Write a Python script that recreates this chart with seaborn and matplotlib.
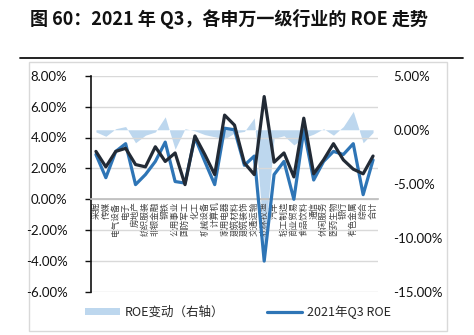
import matplotlib
matplotlib.use("Agg")
import matplotlib.pyplot as plt
import seaborn as sns
import pandas as pd
import numpy as np
from matplotlib.patches import Rectangle, Patch
from matplotlib.lines import Line2D
from matplotlib.ticker import FixedLocator

industries = ["采掘", "传媒", "电气设备", "电子", "房地产", "纺织服装", "非银金融", "钢铁",
              "公用事业", "国防军工", "化工", "机械设备", "计算机", "家用电器", "建筑材料",
              "建筑装饰", "交通运输", "农林牧渔", "汽车", "轻工制造", "商业贸易", "食品饮料",
              "通信", "休闲服务", "医药生物", "银行", "有色金属", "综合", "合计"]

roe_2021q3 = [2.9, 1.4, 3.1, 3.6, 0.95, 1.6, 2.45, 3.7, 1.15, 1.05, 4.0, 2.45, 0.95, 4.6,
              4.5, 2.2, 2.8, -4.0, 1.6, 2.45, 0.0, 4.5, 1.25, 2.45, 3.1, 2.9, 3.6, 0.3, 2.55]

roe_prev = [3.1, 2.1, 3.1, 3.3, 2.25, 2.1, 3.4, 2.45, 3.0, 0.95, 4.1, 2.9, 1.6, 5.45,
            4.8, 2.35, 1.6, 6.65, 2.4, 3.0, 1.45, 5.25, 1.65, 2.55, 3.6, 2.55, 1.95, 1.65, 2.8]

roe_change = [-0.2, -0.6, 0.1, 0.3, -1.2, -0.5, -0.2, 1.2, -1.8, 0.1, -0.1, -0.45, -0.65, -0.85,
              -0.3, -0.15, 1.1, -10.7, -0.8, -0.55, -1.4, -0.75, -0.4, 0.1, -0.5, 0.3, 1.7, -1.2, -0.25]

left_ticks = [8, 6, 4, 2, 0, -2, -4, -6]
right_ticks = [5, 0, -5, -10, -15]

legend_area = "ROE变动（右轴）"
legend_line = "2021年Q3 ROE"
title = "图 60：2021 年 Q3，各申万一级行业的 ROE 走势"

sns.set_theme(style="white")
plt.rcParams['font.family'] = ['Lato', 'Noto Sans CJK SC', 'DejaVu Sans']

df = pd.DataFrame({"idx": np.arange(len(industries)), "ind": industries,
                   "cur": roe_2021q3, "prev": roe_prev, "chg": roe_change})

W, H = 474, 335
fig = plt.figure(figsize=(W / 100, H / 100), dpi=100)
ax = fig.add_axes([91 / W, 1 - 292 / H, (378 - 91) / W, (292 - 75.7) / H])
ax2 = ax.twinx()

# area on right axis
ax2.fill_between(df["idx"], 0, df["chg"], color="#BDD7EE", linewidth=0, zorder=1)
ax2.set_ylim(-15, 5)
ax2.yaxis.set_major_locator(FixedLocator(right_ticks))
ax2.set_yticklabels([f"{v:.2f}%" for v in right_ticks], fontsize=9.5, color="#111111")
ax2.tick_params(axis='y', length=0, pad=11)
for s in ax2.spines.values():
    s.set_visible(False)

ax.set_zorder(ax2.get_zorder() + 1)
ax.patch.set_visible(False)

sns.lineplot(data=df, x="idx", y="cur", ax=ax, color="#2E75B6", linewidth=2.3, zorder=3)
sns.lineplot(data=df, x="idx", y="prev", ax=ax, color="#222A35", linewidth=2.3, zorder=4)

ax.set_xlim(-0.5, len(industries) - 0.5)
ax.set_ylim(-6, 8)
ax.yaxis.set_major_locator(FixedLocator(left_ticks))
ax.set_yticklabels([f"{v:.2f}%" for v in left_ticks], fontsize=9.5, color="#111111")
ax.tick_params(axis='y', direction='out', length=4, width=1, color="#111111", pad=13, left=True)
ax.set_xlabel("")
ax.set_ylabel("")
ax.grid(axis='y', color="#D9D9D9", linewidth=1)
ax.grid(axis='x', visible=False)
ax.spines['left'].set_color("#111111")
ax.spines['left'].set_linewidth(1.2)
ax.spines['top'].set_visible(False)
ax.spines['right'].set_visible(False)
ax.spines['bottom'].set_position(('data', 0))
ax.spines['bottom'].set_color("#BFBFBF")
ax.set_xticks(df["idx"])
ax.set_xticklabels(industries, rotation=90, fontsize=6.2, color="#444444",
                   family=['Noto Sans CJK SC', 'DejaVu Sans'])
ax.tick_params(axis='x', length=0, pad=1.5)

# title and decoration
fig.text(30 / W, 1 - 19 / H, title, fontsize=13, fontweight='bold', ha='left', va='center',
         family=['Noto Sans CJK SC', 'DejaVu Sans'], color="#111111")
fig.add_artist(Line2D([20 / W, 463 / W], [1 - 58 / H, 1 - 58 / H], color="#111111", linewidth=1.3))
fig.add_artist(Rectangle((29 / W, 1 - 331 / H), (447 - 29) / W, (331 - 62) / H,
                         fill=False, edgecolor="#D9D9D9", linewidth=1))

handles = [Patch(facecolor="#BDD7EE", edgecolor="none"),
           Line2D([], [], color="#2E75B6", linewidth=2.3)]
fig.legend(handles, [legend_area, legend_line], loc='center left',
           bbox_to_anchor=(74 / W, 1 - 312 / H), ncol=2, frameon=False,
           handlelength=2.8, handleheight=0.5, handletextpad=0.4,
           columnspacing=3.4, prop={'family': ['Noto Sans CJK SC', 'DejaVu Sans'], 'size': 9})

fig.savefig("out.png", dpi=100)
